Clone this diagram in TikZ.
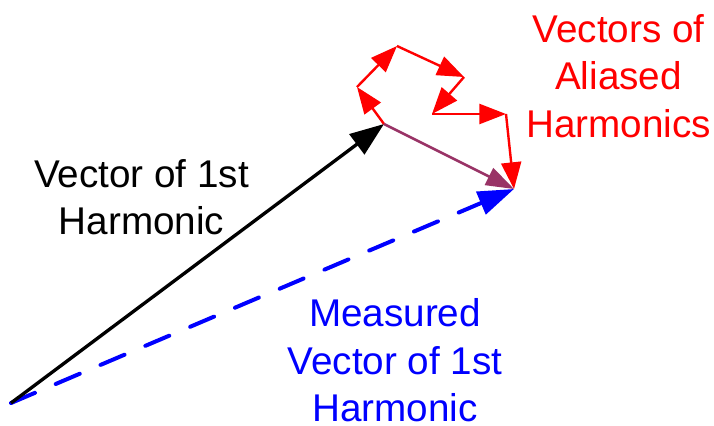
\documentclass[tikz,border=0pt]{standalone}
\usepackage{fontspec}
\setmainfont{Liberation Sans}
\usetikzlibrary{arrows.meta}
\definecolor{aliasred}{RGB}{255,0,0}
\definecolor{measblue}{RGB}{0,0,255}
\definecolor{sumpurple}{RGB}{153,51,102}

\begin{document}
\begin{tikzpicture}[
  x=0.75pt, y=-0.75pt,
  every node/.style={
    inner sep=0pt,
    align=center,
    anchor=north,
    font=\fontsize{29}{35.6}\selectfont
  },
  harmonic/.style={line width=2.5pt, -{Triangle[length=25.5pt,width=18.6pt]}},
  measured/.style={measblue, line width=3pt, line cap=round,
    dash pattern=on 19.5pt off 17pt, -{Triangle[length=27pt,width=18pt]}},
  alias/.style={aliasred, line width=1.8pt, -{Triangle[length=20pt,width=15pt]}},
  resultant/.style={sumpurple, line width=1.9pt, -{Triangle[length=21pt,width=14pt]}}
]
  \useasboundingbox (0,0) rectangle (714,425);

  \coordinate (O)  at (11,403);
  \coordinate (h1) at (384,124);
  \coordinate (a1) at (357,87);
  \coordinate (a2) at (397,46);
  \coordinate (a3) at (464,77);
  \coordinate (a4) at (432,114);
  \coordinate (a5) at (506,114);
  \coordinate (m1) at (514,189);

  % labels
  \node[text=black]     (firstText) at (141.5,159) {Vector of 1st\\Harmonic};
  \node[text=aliasred]  (aliasText) at (618.5,14)  {Vectors of\\Aliased\\Harmonics};
  \node[text=measblue]  (measText)  at (395,298.5) {Measured\\Vector of 1st\\Harmonic};

  % vectors
  \draw[measured] (O) -- (m1);
  \draw[harmonic] (O) -- (h1);
  \draw[alias] (h1) -- (a1);
  \draw[alias] (a1) -- (a2);
  \draw[alias] (a2) -- (a3);
  \draw[alias] (a3) -- (a4);
  \draw[alias] (a4) -- (a5);
  \draw[alias] (a5) -- (m1);
  \draw[resultant] (h1) -- (m1);
\end{tikzpicture}
\end{document}
